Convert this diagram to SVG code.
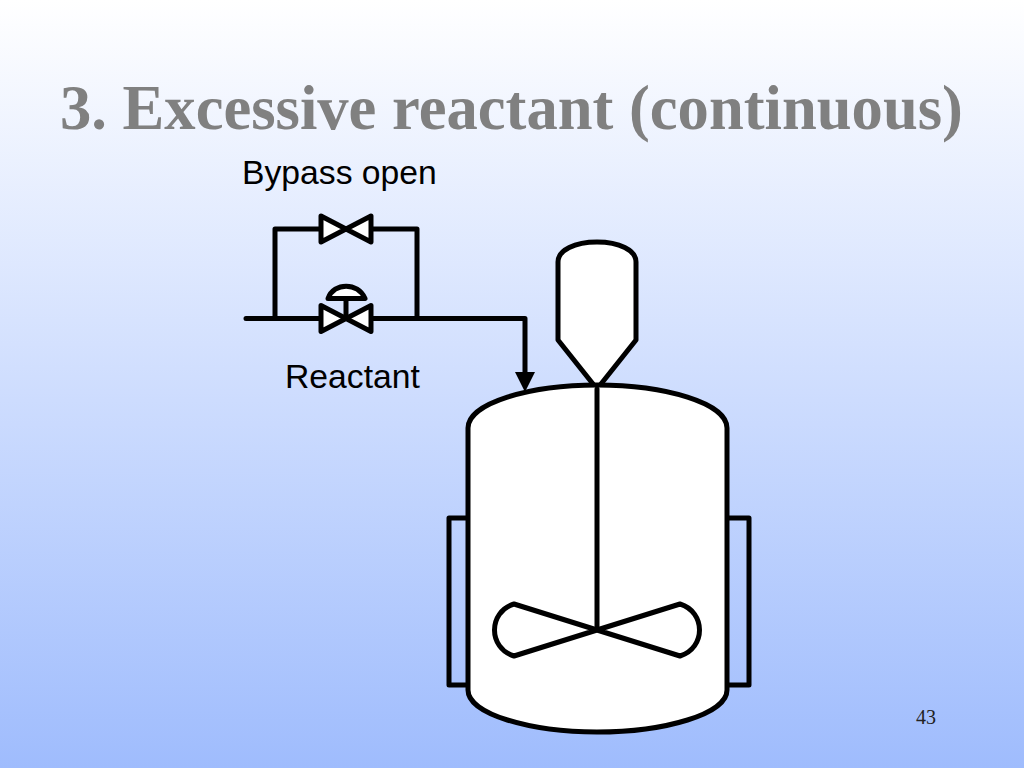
<svg xmlns="http://www.w3.org/2000/svg" width="1024" height="768" viewBox="0 0 1024 768">
<style>
.s{stroke:#000;stroke-width:5;stroke-linejoin:round;stroke-linecap:round;fill:none}
.f{fill:#fff}
.v{fill:#fff;stroke:#000;stroke-width:5;stroke-linejoin:round}
.l{font-family:"Liberation Sans",Arial,sans-serif;font-size:33.700px;fill:#000}
</style>
<defs>
<linearGradient id="bg" x1="0" y1="0" x2="0" y2="1"><stop offset="0" stop-color="#fff"/><stop offset="1" stop-color="#9fbcfd"/></linearGradient>
<g id="valve"><path class="v" d="M-25 -13L25 13V-13L-25 13Z"/></g>
</defs>
<rect width="1024" height="768" fill="url(#bg)"/>
<text x="60" y="129" font-family="'Liberation Serif','Times New Roman',serif" font-weight="bold" font-size="62.600" fill="#808080">3. Excessive reactant (continuous)</text>
<text class="l" x="242" y="184">Bypass open</text>
<text class="l" x="285" y="388">Reactant</text>
<text x="916" y="724" font-family="'Liberation Serif','Times New Roman',serif" font-size="20" fill="#222">43</text>
<g id="connectors">
<path class="s" d="M246 318.500H525V374"/>
<path class="s" d="M275 318.500V229H417V318.500"/>
<path d="M515 372H535L525 392Z" fill="#000"/>
</g>
<g id="jacket-left"><rect class="s" x="449" y="518" width="30" height="167"/></g>
<g id="jacket-right"><rect class="s" x="718" y="518" width="31" height="167"/></g>
<g id="hopper"><path class="s f" d="M558 340V262C558 250 575 242 597 242C619 242 636 250 636 262V340L597 389Z"/></g>
<g id="tank">
<path class="s f" d="M468 428C468 403 530 385 597 385C665 385 727 403 727 428V690C727 714 665 732 597 732C530 732 468 714 468 690Z"/>
<path class="s" d="M597 389V630"/>
<path class="s" d="M597 630L514 604C488 612 488 648 514 656L597 630L680 604C706 612 706 648 680 656Z"/>
</g>
<g id="bypass-valve"><use href="#valve" x="346" y="229"/></g>
<g id="control-valve">
<use href="#valve" x="346" y="318.500"/>
<path class="s" d="M346 299V318"/>
<path class="s f" d="M328 298.500C334 282 358 282 365 298.500Z"/>
</g>
</svg>
